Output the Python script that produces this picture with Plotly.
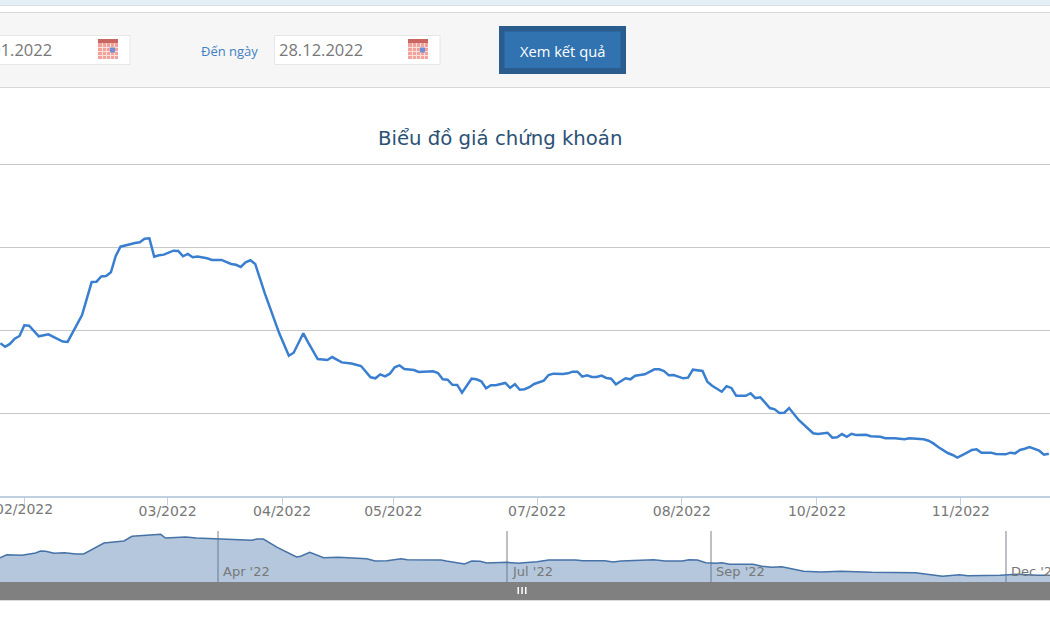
import plotly.graph_objects as go

# Closing price by trading session (thousand VND)
sessions = [0,1,2,3,4,5,6,7,8,10,11,13,14,17,19,20,21,22,23,24,25,26,27,28,29,30,31,32,33,34,36,37,38,39,40,41,43,44,46,47,48,49,50,51,52,53,55,58,60,61,63,64,66,68,69,71,73,75,77,78,79,80,81,82,83,84,86,87,90,91,92,93,94,95,96,98,99,100,101,102,103,105,106,107,108,109,110,111,112,113,114,115,117,118,119,120,121,122,123,124,125,126,127,128,130,131,132,133,134,136,137,138,139,140,142,143,144,146,147,148,150,151,152,153,155,156,157,158,160,161,162,163,164,166,168,169,170,172,173,174,175,176,177,178,180,181,183,184,186,188,189,192,193,194,195,197,198,199,201,202,203,204,206,207,209,210,211,212,213,214,216,217,218]
prices = [19.20,18.99,19.16,19.48,19.64,20.28,20.26,19.96,19.62,19.74,19.60,19.30,19.28,20.90,22.89,22.91,23.23,23.25,23.48,24.46,25.02,25.10,25.16,25.24,25.28,25.50,25.52,24.42,24.50,24.54,24.78,24.76,24.44,24.58,24.38,24.42,24.32,24.22,24.22,24.11,23.98,23.93,23.80,24.08,24.20,23.98,22.21,19.80,18.45,18.63,19.80,19.26,18.25,18.19,18.37,18.05,17.98,17.83,17.15,17.09,17.33,17.21,17.37,17.75,17.87,17.65,17.59,17.47,17.51,17.41,17.03,17.01,16.70,16.69,16.22,17.07,17.03,16.91,16.49,16.67,16.67,16.81,16.52,16.73,16.40,16.43,16.55,16.75,16.83,16.95,17.29,17.37,17.35,17.39,17.49,17.49,17.19,17.27,17.17,17.17,17.25,17.11,17.07,16.73,17.09,17.03,17.25,17.31,17.33,17.63,17.63,17.53,17.27,17.29,17.09,17.13,17.61,17.53,16.89,16.64,16.28,16.61,16.51,16.04,16.04,16.19,15.90,15.95,15.30,15.22,15.00,15.02,15.30,14.58,14.08,13.78,13.73,13.81,13.51,13.54,13.73,13.57,13.75,13.67,13.69,13.60,13.57,13.48,13.48,13.42,13.48,13.42,13.33,13.17,12.95,12.59,12.47,12.31,12.61,12.77,12.81,12.61,12.61,12.53,12.51,12.61,12.57,12.77,12.85,12.95,12.73,12.49,12.55]

# Overview series, by day of the year
overview_days = [23.3,25.4,30.1,34.35,35.9,37.5,40.1,43.3,46.9,49.3,55.6,61.8,64.3,67.4,73.2,74.7,77.9,81.0,84.2,90.4,96.8,101.5,103.1,105.1,109.4,115.4,116.7,119.5,123.8,128.3,137.2,139.8,143.5,147.9,149.8,160.3,161.9,167.6,169.8,172.4,174.5,180.8,184.5,185.0,190.1,193.7,202.1,204.3,211.1,213.7,216.2,226.3,229.9,235.2,237.3,239.9,242.5,245.7,247.5,249.9,257.2,259.9,263.0,266.1,272.9,278.2,284.5,294.0,307.6,316.0,321.3,323.9,333.9,339.2,345.4,351.7]
overview_prices = [18.10,19.05,18.86,19.59,20.23,20.13,19.50,19.69,19.28,19.28,22.76,23.40,24.89,25.08,25.52,24.35,24.44,24.67,24.35,24.13,23.94,23.62,24.03,24.03,21.40,18.33,18.55,19.81,18.10,18.23,17.79,17.06,17.15,17.79,17.47,17.37,17.06,16.11,17.06,16.96,16.42,16.64,16.33,16.42,16.84,17.37,17.37,17.15,17.15,16.74,17.06,17.47,17.06,17.06,17.47,17.37,16.52,16.33,16.52,16.01,16.01,15.38,15.06,15.25,13.79,13.57,13.79,13.47,13.35,12.21,12.71,12.40,12.52,12.84,12.52,12.52]

# Axis labels
month_ticks = [4.93,34.8,58.6,81.7,111.6,141.7,169.8,199.7]
month_labels = ["02/2022","03/2022","04/2022","05/2022","07/2022","08/2022","10/2022","11/2022"]
overview_ticks = [91.0,180.8,244.1,335.7]
overview_labels = ["Apr '22","Jul '22","Sep '22","Dec '22"]

W, H = 1050, 630
def fx(px): return px / W
def fy(py): return 1 - py / H

def box(x0, y0, x1, y1, fill, line=None, width=1):
    return dict(type="rect", xref="paper", yref="paper", x0=fx(x0), x1=fx(x1),
                y0=fy(y1), y1=fy(y0), fillcolor=fill, layer="above",
                line=dict(color=line or fill, width=width if line else 0))

def label(px, py, text, size, color, anchor="center", family="Open Sans"):
    return dict(xref="paper", yref="paper", x=fx(px), y=fy(py), text=text, showarrow=False,
                xanchor=anchor, yanchor="middle", align=anchor,
                font=dict(size=size, color=color, family=family))

def calendar(x0):
    # small date-picker glyph: red header over a pink grid
    parts = [box(x0, 39, x0 + 20, 59, "#f0a29b"), box(x0, 39, x0 + 20, 43, "#c9665f")]
    for dx in (4, 8, 12, 16):
        parts.append(box(x0 + dx, 43, x0 + dx + 1, 59, "#fbdfdb"))
    for dy in (47, 51, 55):
        parts.append(box(x0, dy, x0 + 20, dy + 1, "#fbdfdb"))
    parts.append(box(x0 + 12, 47.5, x0 + 17, 52.5, "#6f8fd8"))
    return parts

shapes = [
    # page header strip and filter panel
    box(0, 0, W, 5, "#e5eff6"),
    box(0, 5, W, 6, "#d5dfe6"),
    box(0, 12, W, 87.5, "#f6f6f6"),
    box(0, 12, W, 13, "#d8d8d8"),
    box(0, 87, W, 88, "#d8d8d8"),
    # date inputs
    box(-4, 35.5, 130, 64.5, "#ffffff", "#e6e6e6"),
    box(274.5, 35.5, 440, 64.5, "#ffffff", "#e6e6e6"),
    # submit button
    box(499, 26, 626, 74, "#2a5d8e"),
    box(504.5, 31.5, 620.5, 68, "#3173b0"),
    # overview scrollbar with its grip
    box(0, 582, W, 600, "#808080"),
    box(0, 600, W, 601, "#dcdcdc"),
    box(517.5, 587, 519, 594, "#ffffff"),
    box(521.3, 587, 522.8, 594, "#ffffff"),
    box(525, 587, 526.5, 594, "#ffffff"),
]
shapes += calendar(98) + calendar(408)

annotations = [
    label(54, 50, "01.01.2022", 16.5, "#777777", "right"),
    label(277, 50, "28.12.2022", 16.5, "#777777", "left"),
    label(229, 50.5, "Đến ngày", 13, "#3f7fc4"),
    label(562.5, 50.5, "Xem kết quả", 14.7, "#ffffff"),
    label(500, 138, "Biểu đồ giá chứng khoán", 19.7, "#2b5175", family="DejaVu Sans"),
    # the first month label runs past the left edge, so it is placed by hand
    dict(xref="x", yref="paper", x=month_ticks[0], y=fy(509), text=month_labels[0], showarrow=False,
         xanchor="center", yanchor="middle",
         font=dict(size=14, color="#777777", family="DejaVu Sans")),
]
for tick, text in zip(overview_ticks, overview_labels):
    annotations.append(dict(xref="x2", yref="paper", x=tick, y=fy(571), text=text, showarrow=False,
                            xanchor="left", yanchor="middle", xshift=3,
                            font=dict(size=13, color="#777777", family="DejaVu Sans")))

fig = go.Figure()
fig.add_trace(go.Scatter(x=sessions, y=prices, mode="lines", xaxis="x", yaxis="y",
                         line=dict(color="#3a7fcf", width=2.5), hoverinfo="skip"))
fig.add_trace(go.Scatter(x=overview_days, y=overview_prices, mode="lines", xaxis="x2", yaxis="y2",
                         fill="tozeroy", fillcolor="rgba(69,114,167,0.4)",
                         line=dict(color="#4572a7", width=1.5), hoverinfo="skip"))

fig.update_layout(
    width=W, height=H, margin=dict(l=0, r=0, t=0, b=0), autosize=False,
    paper_bgcolor="#ffffff", plot_bgcolor="rgba(0,0,0,0)", showlegend=False,
    xaxis=dict(domain=[0, 1], anchor="y", range=[-0.06, 218.25], tickmode="array",
               tickvals=month_ticks, ticktext=[""] + month_labels[1:], ticks="outside", ticklen=7,
               tickcolor="#c0d0e0", showgrid=False, zeroline=False, showline=True,
               linecolor="#c0d0e0", linewidth=1.5, ticklabelstandoff=-6,
               tickfont=dict(size=14, color="#777777", family="DejaVu Sans")),
    yaxis=dict(domain=[fy(496), fy(160)], anchor="x", range=[10, 30.241], tickmode="array",
               tickvals=[15, 20, 25, 30], showticklabels=False, showgrid=True,
               gridcolor="#c8c8c8", gridwidth=1.3, zeroline=False, showline=False, ticks=""),
    xaxis2=dict(domain=[0, 1], anchor="y2", range=[23.3, 349.4], tickmode="array",
                tickvals=overview_ticks, showticklabels=False, showgrid=True,
                gridcolor="#bcc0c6", gridwidth=1.6, zeroline=False, showline=False, ticks=""),
    yaxis2=dict(domain=[fy(582), fy(530.7)], anchor="x2", range=[10.4, 26.66],
                showticklabels=False, showgrid=False, zeroline=False, showline=False, ticks=""),
    shapes=shapes, annotations=annotations,
)

fig.write_html("out.html", config={"displayModeBar": False})
